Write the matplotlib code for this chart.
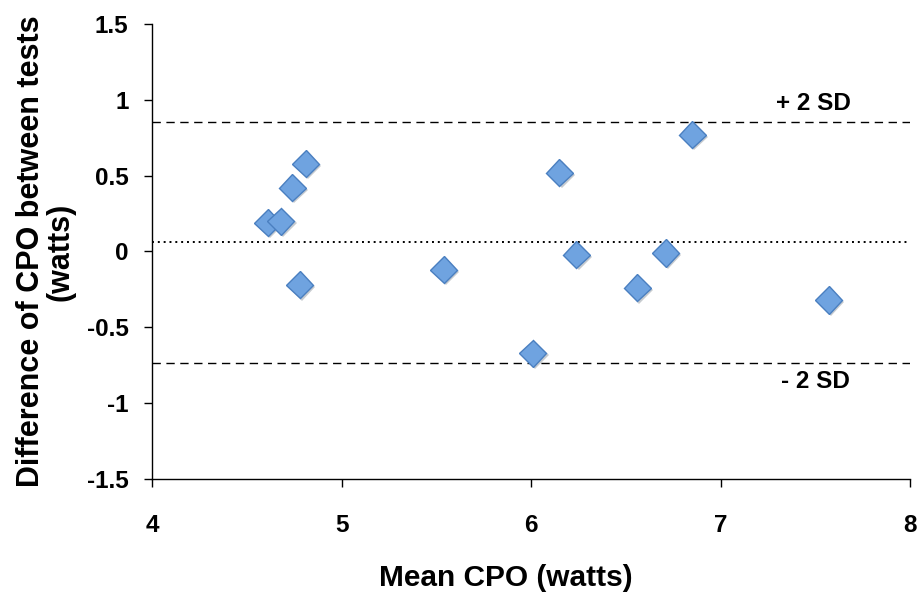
import matplotlib.pyplot as plt
import matplotlib.patheffects as pe

# Bland-Altman data: mean CPO vs difference between tests
mean_cpo = [4.61, 4.68, 4.74, 4.81, 4.78, 5.54, 6.01, 6.15, 6.24, 6.56, 6.71, 6.85, 7.57]
diff_cpo = [0.19, 0.20, 0.42, 0.58, -0.22, -0.12, -0.67, 0.52, -0.02, -0.24, -0.01, 0.77, -0.32]

mean_diff = 0.06
upper_sd = 0.855
lower_sd = -0.735

plt.rcParams['font.family'] = ['Liberation Sans', 'DejaVu Sans']
plt.rcParams['font.weight'] = 'bold'

fig = plt.figure(figsize=(9.18, 5.94), dpi=100)
ax = fig.add_axes([0.1656, 0.1936, 0.8257, 0.766])

ax.axhline(upper_sd, color='black', lw=1.0, ls=(0, (6, 4)), zorder=1)
ax.axhline(lower_sd, color='black', lw=1.0, ls=(0, (6, 4)), zorder=1)
ax.axhline(mean_diff, color='black', lw=1.4, ls=(0, (1, 2.0)), zorder=1)

ax.plot(mean_cpo, diff_cpo, ls='none', marker='D', ms=13.8,
        mfc='#6FA3E0', mec='#4A7FC0', mew=1.0, zorder=3,
        path_effects=[pe.SimplePatchShadow(offset=(1.5, -1.5), alpha=0.25),
                      pe.Normal()])

ax.text(7.49, 0.975, '+ 2 SD', fontsize=17.5, fontweight='bold', ha='center', va='center')
ax.text(7.50, -0.86, '- 2 SD', fontsize=17.5, fontweight='bold', ha='center', va='center')

ax.set_xlim(4, 8)
ax.set_ylim(-1.5, 1.5)
ax.set_xticks([4, 5, 6, 7, 8])
ax.set_xticklabels(['4', '5', '6', '7', '8'])
ax.set_yticks([-1.5, -1, -0.5, 0, 0.5, 1, 1.5])
ax.set_yticklabels(['-1.5', '-1', '-0.5', '0', '0.5', '1', '1.5'])

for s in ['top', 'right']:
    ax.spines[s].set_visible(False)
for s in ['left', 'bottom']:
    ax.spines[s].set_linewidth(1.0)

ax.tick_params(direction='out', length=6, width=1.0, labelsize=17.5)
ax.tick_params(axis='x', pad=19)
ax.tick_params(axis='y', pad=11)
for lbl in ax.get_xticklabels() + ax.get_yticklabels():
    lbl.set_fontweight('bold')

ax.set_xlabel('Mean CPO (watts)', fontsize=21.5, fontweight='bold', va='center')
ax.xaxis.set_label_coords(0.467, -0.2176)
ax.set_ylabel('Difference of CPO between tests\n(watts)', fontsize=22,
              fontweight='bold', va='center', linespacing=1.0)
ax.yaxis.set_label_coords(-0.14, 0.5)

fig.savefig('out.png', dpi=100)
